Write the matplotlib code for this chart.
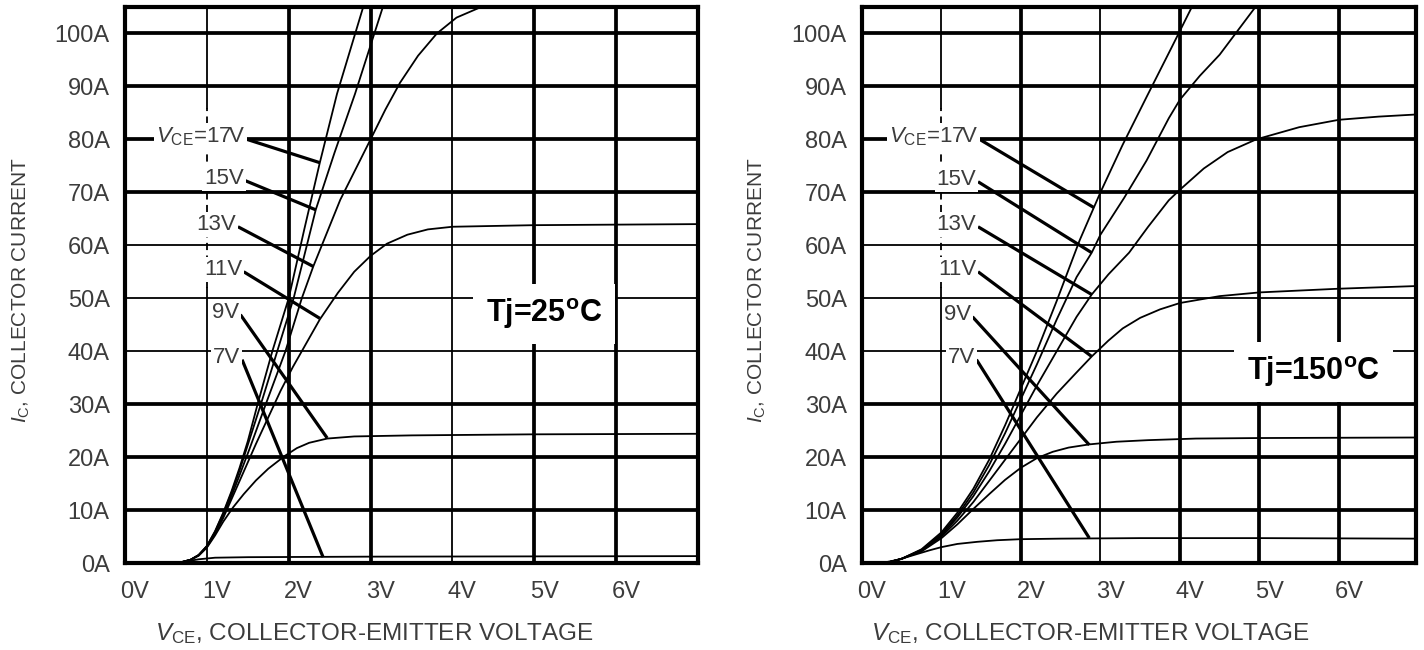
import matplotlib
matplotlib.use("Agg")
import matplotlib.pyplot as plt
from matplotlib.transforms import ScaledTranslation

plt.rcParams['font.family'] = ['Liberation Sans', 'DejaVu Sans']
plt.rcParams['mathtext.fontset'] = 'custom'
plt.rcParams['mathtext.rm'] = 'Liberation Sans'
plt.rcParams['mathtext.it'] = 'Liberation Sans:italic'
plt.rcParams['mathtext.bf'] = 'Liberation Sans:bold'

# ---------------- Tj = 25 C : VCE (V) / IC (A) ----------------
v25_17 = [0, 0.65, 0.8, 0.9, 1.0, 1.1, 1.2, 1.3, 1.4, 1.5, 1.62, 1.8, 2.0, 2.19, 2.38, 2.59, 2.91]
i25_17 = [0, 0, 0.6, 1.5, 3.2, 6.0, 9.5, 13.5, 18.0, 23.0, 30.0, 40.0, 50.0, 63.0, 75.6, 88.6, 105.0]
v25_15 = [0, 0.65, 0.8, 0.9, 1.0, 1.1, 1.2, 1.3, 1.4, 1.5, 1.66, 1.86, 2.06, 2.33, 2.56, 2.81, 3.15]
i25_15 = [0, 0, 0.6, 1.5, 3.2, 5.9, 9.3, 13.2, 17.5, 22.3, 30.0, 40.0, 50.0, 66.7, 77.5, 88.6, 105.0]
v25_13 = [0, 0.65, 0.8, 0.9, 1.0, 1.1, 1.2, 1.3, 1.4, 1.52, 1.72, 1.96, 2.16, 2.30, 2.63, 3.0, 3.18,
          3.36, 3.58, 3.81, 4.05, 4.35]
i25_13 = [0, 0, 0.6, 1.5, 3.1, 5.7, 8.9, 12.6, 16.6, 21.5, 30.0, 40.0, 50.0, 56.0, 68.6, 80.0, 85.6,
          90.7, 95.8, 100.0, 103.0, 105.0]
v25_11 = [0, 0.65, 0.8, 0.9, 1.0, 1.1, 1.2, 1.3, 1.4, 1.5, 1.6, 1.75, 1.9, 2.05, 2.16, 2.38, 2.6, 2.8,
          3.0, 3.2, 3.45, 3.7, 4.0, 5.0, 7.0]
i25_11 = [0, 0, 0.6, 1.4, 3.0, 5.5, 8.5, 12.0, 15.5, 19.0, 22.5, 27.5, 32.5, 37.0, 40.0, 46.0, 51.0, 55.0,
          58.0, 60.3, 62.0, 63.0, 63.5, 63.8, 64.0]
v25_9 = [0, 0.65, 0.8, 0.9, 1.0, 1.1, 1.2, 1.32, 1.45, 1.6, 1.75, 1.95, 2.1, 2.25, 2.47, 2.8, 3.5, 5.0, 7.0]
i25_9 = [0, 0, 0.6, 1.4, 2.9, 5.2, 7.8, 10.5, 13.0, 15.6, 17.8, 20.2, 21.7, 22.7, 23.5, 23.9, 24.1, 24.3, 24.4]
v25_7 = [0, 0.6, 0.75, 0.9, 1.1, 1.5, 3.0, 7.0]
i25_7 = [0, 0, 0.3, 0.7, 1.0, 1.1, 1.2, 1.3]

# ---------------- Tj = 150 C ----------------
v150_17 = [0, 0.3, 0.5, 0.75, 1.0, 1.2, 1.4, 1.6, 1.8, 2.0, 2.2, 2.45, 2.74, 3.0, 3.28, 3.58, 3.9, 4.15]
i150_17 = [0, 0, 0.8, 2.6, 5.8, 9.5, 14.0, 19.5, 26.0, 33.0, 40.0, 49.5, 61.0, 70.0, 79.0, 88.0, 97.5, 105.0]
v150_15 = [0, 0.3, 0.5, 0.75, 1.0, 1.2, 1.4, 1.6, 1.8, 2.0, 2.2, 2.45, 2.7, 2.89, 3.0, 3.3, 3.58, 3.86,
           4.0, 4.25, 4.5, 4.95]
i150_15 = [0, 0, 0.8, 2.5, 5.5, 9.0, 13.3, 18.5, 24.5, 31.0, 37.5, 46.0, 54.0, 58.6, 62.0, 69.0, 76.0, 84.0,
           87.5, 92.0, 96.0, 105.0]
v150_13 = [0, 0.3, 0.5, 0.75, 1.0, 1.2, 1.4, 1.6, 1.8, 2.0, 2.2, 2.45, 2.7, 2.89, 3.1, 3.36, 3.6, 3.86,
           4.0, 4.3, 4.6, 4.96, 5.5, 6.0, 6.5, 6.97]
i150_13 = [0, 0, 0.8, 2.4, 5.2, 8.6, 12.6, 17.3, 22.5, 28.0, 33.5, 40.0, 46.5, 50.7, 54.5, 58.6, 63.5, 68.5,
           70.5, 74.5, 77.6, 80.0, 82.3, 83.7, 84.3, 84.7]
v150_11 = [0, 0.3, 0.5, 0.75, 1.0, 1.2, 1.4, 1.6, 1.8, 2.0, 2.2, 2.45, 2.7, 2.89, 3.1, 3.28, 3.5, 3.75,
           4.0, 4.5, 5.0, 6.0, 6.97]
i150_11 = [0, 0, 0.8, 2.3, 5.0, 8.0, 11.5, 15.5, 19.5, 23.5, 27.5, 32.0, 36.0, 39.0, 42.0, 44.3, 46.3, 47.9,
           49.1, 50.4, 51.1, 51.8, 52.3]
v150_9 = [0, 0.3, 0.5, 0.75, 1.0, 1.2, 1.4, 1.6, 1.8, 2.0, 2.2, 2.4, 2.6, 2.86, 3.2, 3.6, 4.2, 5.0, 6.97]
i150_9 = [0, 0, 0.8, 2.2, 4.7, 7.3, 10.2, 13.0, 15.7, 18.0, 19.8, 21.0, 21.8, 22.4, 22.9, 23.2, 23.5, 23.6, 23.7]
v150_7 = [0, 0.25, 0.45, 0.65, 0.85, 1.0, 1.2, 1.45, 1.7, 2.0, 2.5, 3.5, 5.0, 6.97]
i150_7 = [0, 0, 0.6, 1.5, 2.4, 3.0, 3.6, 4.0, 4.3, 4.5, 4.6, 4.7, 4.7, 4.6]

# gate voltage labels and their leader lines (label end -> point on curve)
vge_labels = [r'$V_{\mathrm{CE}}$=17V', '15V', '13V', '11V', '9V', '7V']
lead25_v0 = [1.49, 1.47, 1.38, 1.45, 1.41, 1.43]
lead25_i0 = [80.0, 72.2, 63.5, 55.0, 46.9, 38.4]
lead25_v1 = [2.38, 2.33, 2.30, 2.38, 2.47, 2.42]
lead25_i1 = [75.6, 66.7, 56.0, 46.2, 23.6, 1.1]
lead150_v0 = [1.48, 1.46, 1.46, 1.46, 1.39, 1.44]
lead150_i0 = [80.0, 72.0, 63.5, 55.0, 46.5, 38.4]
lead150_v1 = [2.92, 2.89, 2.89, 2.89, 2.86, 2.86]
lead150_i1 = [67.1, 58.6, 50.7, 39.0, 22.3, 4.7]

y_ticks = [0, 10, 20, 30, 40, 50, 60, 70, 80, 90, 100]
x_ticks = [0, 1, 2, 3, 4, 5, 6]

GRAY = '#3c3c3c'
THICK, THIN = 2.7, 1.3


def panel(ax, curves, lv0, li0, lv1, li1, tj_text, tj_pos, xmax, thick_v):
    ax.set_xlim(0, xmax)
    ax.set_ylim(0, 105)

    # grid: mixed heavy / light lines like the scanned datasheet
    for v in x_ticks[1:]:
        if v == 1:
            continue
        ax.axvline(v, color='black', lw=THICK if v in thick_v else THIN, zorder=1)
    for i in y_ticks[1:]:
        ax.axhline(i, color='black', lw=THICK if i in (10, 20, 30, 70, 80, 90, 100) else THIN, zorder=1)
    # 1V line is dashed behind the labels
    ax.plot([1, 1], [0, 52], color='black', lw=THIN, zorder=1)
    ax.plot([1, 1], [86, 105], color='black', lw=THIN, zorder=1)
    ax.plot([1, 1], [52, 86], color='black', lw=THIN, dashes=(4, 3), zorder=1)

    for v, i in curves:
        ax.plot(v, i, color='black', lw=1.3, zorder=3)

    for k, lab in enumerate(vge_labels):
        ax.plot([lv0[k], lv1[k]], [li0[k], li1[k]], color='black', lw=2.3, zorder=4,
                solid_capstyle='butt')
        ax.text(lv0[k] - 0.02, li0[k] + 0.5, lab, ha='right', va='center', fontsize=16,
                color=GRAY, zorder=5,
                bbox=dict(facecolor='white', edgecolor='none', pad=1.5))

    ax.text(tj_pos[0], tj_pos[1], tj_text, ha='center', va='center', fontsize=22,
            fontweight='bold', color='black', zorder=5,
            bbox=dict(facecolor='white', edgecolor='none', pad=9))

    ax.set_xticks(x_ticks)
    ax.set_xticklabels(['%dV' % v for v in x_ticks])
    ax.set_yticks(y_ticks)
    ax.set_yticklabels(['%dA' % i for i in y_ticks])
    ax.tick_params(length=0, labelsize=17, labelcolor=GRAY)
    ax.tick_params(axis='y', pad=11)
    ax.tick_params(axis='x', pad=13)
    for lbl in ax.get_xticklabels():
        lbl.set_transform(lbl.get_transform() + ScaledTranslation(0.1, 0, ax.figure.dpi_scale_trans))
    for s in ax.spines.values():
        s.set_linewidth(3.0)
        s.set_zorder(6)

    ax.set_xlabel(r'$V_{\mathrm{CE}}$, COLLECTOR-EMITTER VOLTAGE', fontsize=17.5, color=GRAY)
    ax.set_ylabel(r'$I_{\mathrm{C}}$, COLLECTOR CURRENT', fontsize=15, color=GRAY)


fig = plt.figure(figsize=(14.24, 6.5), dpi=100)
ax1 = fig.add_axes([125 / 1424, 87 / 650, 573 / 1424, 556 / 650])
ax2 = fig.add_axes([862 / 1424, 87 / 650, 554 / 1424, 556 / 650])

panel(ax1,
      [(v25_17, i25_17), (v25_15, i25_15), (v25_13, i25_13),
       (v25_11, i25_11), (v25_9, i25_9), (v25_7, i25_7)],
      lead25_v0, lead25_i0, lead25_v1, lead25_i1,
      r'Tj=25$^{\mathbf{o}}$C', (5.12, 47.1), 7.0, (2, 3, 5, 6))
panel(ax2,
      [(v150_17, i150_17), (v150_15, i150_15), (v150_13, i150_13),
       (v150_11, i150_11), (v150_9, i150_9), (v150_7, i150_7)],
      lead150_v0, lead150_i0, lead150_v1, lead150_i1,
      r'Tj=150$^{\mathbf{o}}$C', (5.68, 36.1), 6.97, (2, 4, 5, 6))

ax1.xaxis.set_label_coords(0.436, -0.105)
ax2.xaxis.set_label_coords(0.413, -0.105)
ax1.yaxis.set_label_coords(-0.162, 0.49)
ax2.yaxis.set_label_coords(-0.170, 0.49)

fig.savefig('out.png', dpi=100, facecolor='white')
